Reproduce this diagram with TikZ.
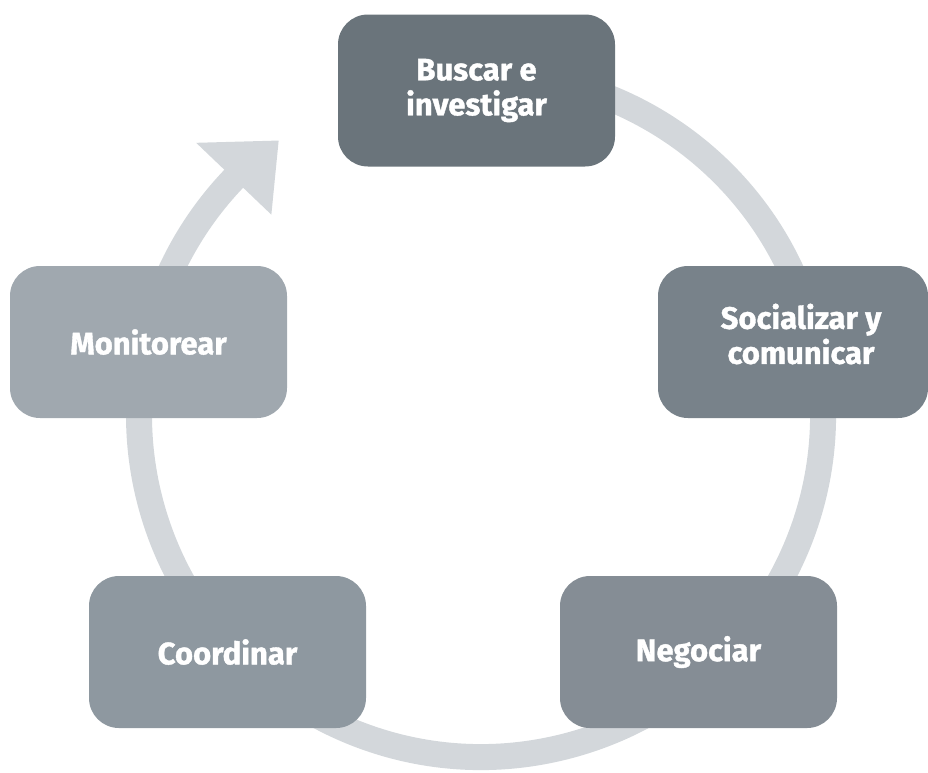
\documentclass[tikz,border=0pt]{standalone}
\usepackage{fontspec}
\newfontfamily\boxfont[FakeBold=1.2]{Fira Sans}
\usetikzlibrary{calc}
\definecolor{ringcol}{HTML}{D3D7DB}
\definecolor{cA}{HTML}{6A747B}
\definecolor{cB}{HTML}{78828A}
\definecolor{cC}{HTML}{858D95}
\definecolor{cD}{HTML}{8E98A0}
\definecolor{cE}{HTML}{A0A8AF}
\begin{document}
\begin{tikzpicture}[x=1pt,y=1pt,
  stepbox/.style={rounded corners=30pt, minimum width=277pt, minimum height=152pt,
    inner sep=0pt},
  steptext/.style={text=white, align=center, inner sep=0pt,
    font=\boxfont\bfseries\fontsize{31}{35}\selectfont},
  ring/.style={line width=26pt, draw=ringcol, line cap=butt}]
\useasboundingbox (0,0) rectangle (928,-772);
\coordinate (C) at (481,-415);
% ring with arrow
\draw[ring] ($(C)+(105:342)$) arc[start angle=105, end angle=-224.5, radius=342];
\fill[ringcol] ($(C)+(136.3:394)$) -- ($(C)+(126.4:341)$) -- ($(C)+(136.3:290)$) -- cycle;
% boxes
\node[stepbox, fill=cA, steptext] (buscar) at (476.5,-90.5) {Buscar e\\investigar};
\node[stepbox, fill=cB, minimum width=270pt] (social) at (793,-342) {};
\node[steptext] (socialtxt) at ($(social.center)+(8,8)$) {Socializar y\\comunicar};
\node[stepbox, fill=cC, steptext] (negociar) at (698.5,-652) {Negociar};
\node[stepbox, fill=cD, steptext] (coord) at (227.5,-652) {Coordinar};
\node[stepbox, fill=cE, steptext] (monit) at (148.5,-342) {Monitorear};
\end{tikzpicture}
\end{document}
